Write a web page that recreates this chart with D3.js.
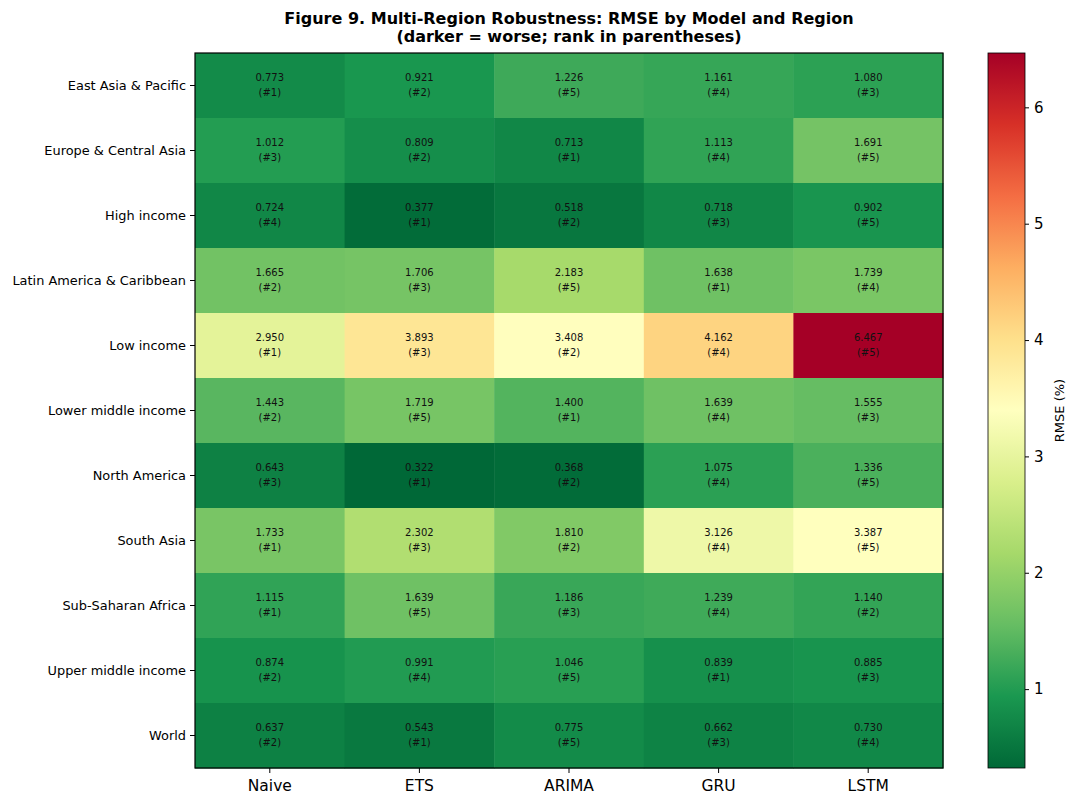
<!DOCTYPE html>
<html>
<head>
<meta charset="utf-8">
<script src="https://cdn.jsdelivr.net/npm/d3@7"></script>
<style>
  body { margin: 0; background: #fff; }
  svg text { font-family: "DejaVu Sans", sans-serif; }
</style>
</head>
<body>
<div id="chart"></div>
<script>
// Multi-region RMSE heatmap

const regions = ["East Asia & Pacific", "Europe & Central Asia", "High income",
  "Latin America & Caribbean", "Low income", "Lower middle income", "North America",
  "South Asia", "Sub-Saharan Africa", "Upper middle income", "World"];
const models = ["Naive", "ETS", "ARIMA", "GRU", "LSTM"];

// rows follow regions, columns follow models
const rmse = [
  [0.773, 0.921, 1.226, 1.161, 1.080],
  [1.012, 0.809, 0.713, 1.113, 1.691],
  [0.724, 0.377, 0.518, 0.718, 0.902],
  [1.665, 1.706, 2.183, 1.638, 1.739],
  [2.950, 3.893, 3.408, 4.162, 6.467],
  [1.443, 1.719, 1.400, 1.639, 1.555],
  [0.643, 0.322, 0.368, 1.075, 1.336],
  [1.733, 2.302, 1.810, 3.126, 3.387],
  [1.115, 1.639, 1.186, 1.239, 1.140],
  [0.874, 0.991, 1.046, 0.839, 0.885],
  [0.637, 0.543, 0.775, 0.662, 0.730]
];
const ranks = [
  [1, 2, 5, 4, 3],
  [3, 2, 1, 4, 5],
  [4, 1, 2, 3, 5],
  [2, 3, 5, 1, 4],
  [1, 3, 2, 4, 5],
  [2, 5, 1, 4, 3],
  [3, 1, 2, 4, 5],
  [1, 3, 2, 4, 5],
  [1, 5, 3, 4, 2],
  [2, 4, 5, 1, 3],
  [2, 1, 5, 3, 4]
];
const cbTicks = [1, 2, 3, 4, 5, 6];

const width = 1069, height = 796,
    margin = ({ top: 53, right: 126, bottom: 28, left: 195 });

const svg = d3.select("#chart")
  .append("svg")
  .attr("width", width)
  .attr("height", height)
  .attr("viewBox", [0, 0, width, height]);

const x = d3.scaleBand()
  .domain(models)
  .range([margin.left, width - margin.right]);

const y = d3.scaleBand()
  .domain(regions)
  .range([margin.top, height - margin.bottom]);

// matplotlib RdYlGn_r: linear through the 11 brewer colours
const allVals = rmse.flat();
const [vmin, vmax] = d3.extent(allVals);
const brewer = d3.schemeRdYlGn[11].slice().reverse();
const color = d3.scaleLinear()
  .domain(d3.range(11).map(i => vmin + (vmax - vmin) * i / 10))
  .range(brewer)
  .interpolate(d3.interpolateRgb);

const cells = [];
regions.forEach((r, i) => models.forEach((m, j) => {
  cells.push({ region: r, model: m, value: rmse[i][j], rank: ranks[i][j] });
}));

const g = svg.append("g");
g.selectAll("rect")
  .data(cells)
  .join("rect")
  .attr("x", d => x(d.model))
  .attr("y", d => y(d.region))
  .attr("width", x.bandwidth() + 0.5)
  .attr("height", y.bandwidth() + 0.5)
  .attr("fill", d => color(d.value));

const labels = g.selectAll("text")
  .data(cells)
  .join("text")
  .attr("x", d => x(d.model) + x.bandwidth() / 2)
  .attr("y", d => y(d.region) + y.bandwidth() / 2)
  .attr("text-anchor", "middle")
  .attr("font-size", 10)
  .attr("fill", "#111");
labels.append("tspan")
  .attr("x", d => x(d.model) + x.bandwidth() / 2)
  .attr("dy", -4.5)
  .text(d => d.value.toFixed(3));
labels.append("tspan")
  .attr("x", d => x(d.model) + x.bandwidth() / 2)
  .attr("dy", 14.5)
  .text(d => `(#${d.rank})`);

// frame
svg.append("rect")
  .attr("x", margin.left)
  .attr("y", margin.top)
  .attr("width", width - margin.right - margin.left)
  .attr("height", height - margin.bottom - margin.top)
  .attr("fill", "none")
  .attr("stroke", "#000")
  .attr("stroke-width", 1.2);

// axes
const xAxis = svg.append("g")
  .attr("transform", `translate(0,${height - margin.bottom})`)
  .call(d3.axisBottom(x).tickSize(5).tickPadding(7));
xAxis.attr("font-family", null);
xAxis.select(".domain").remove();
xAxis.selectAll("text").attr("font-size", 15.5).attr("fill", "#000");

const yAxis = svg.append("g")
  .attr("transform", `translate(${margin.left},0)`)
  .call(d3.axisLeft(y).tickSize(5).tickPadding(4));
yAxis.attr("font-family", null);
yAxis.select(".domain").remove();
yAxis.selectAll("text").attr("font-size", 12.9).attr("fill", "#000");

// colorbar
const cbX = 988, cbW = 37;
const cy = d3.scaleLinear()
  .domain([vmin, vmax])
  .range([height - margin.bottom, margin.top]);

const defs = svg.append("defs");
const grad = defs.append("linearGradient")
  .attr("id", "cb")
  .attr("x1", 0).attr("y1", 1).attr("x2", 0).attr("y2", 0);
grad.selectAll("stop")
  .data(d3.range(0, 1.0001, 0.02))
  .join("stop")
  .attr("offset", d => d)
  .attr("stop-color", d => color(vmin + d * (vmax - vmin)));

svg.append("rect")
  .attr("x", cbX)
  .attr("y", cy(vmax))
  .attr("width", cbW)
  .attr("height", cy(vmin) - cy(vmax))
  .attr("fill", "url(#cb)")
  .attr("stroke", "#000")
  .attr("stroke-width", 0.8);

const cbAxis = svg.append("g")
  .attr("transform", `translate(${cbX + cbW},0)`)
  .call(d3.axisRight(cy).tickValues(cbTicks).tickFormat(d3.format("d")).tickSize(4).tickPadding(5));
cbAxis.attr("font-family", null);
cbAxis.select(".domain").remove();
cbAxis.selectAll("text").attr("font-size", 15).attr("fill", "#000");

svg.append("text")
  .attr("transform", `translate(1064,${(margin.top + height - margin.bottom) / 2}) rotate(-90)`)
  .attr("text-anchor", "middle")
  .attr("font-size", 13)
  .text("RMSE (%)");

// title
const title = svg.append("text")
  .attr("x", (margin.left + width - margin.right) / 2)
  .attr("text-anchor", "middle")
  .attr("font-size", 16)
  .attr("font-weight", "bold");
title.append("tspan")
  .attr("x", (margin.left + width - margin.right) / 2)
  .attr("y", 24)
  .text("Figure 9. Multi-Region Robustness: RMSE by Model and Region");
title.append("tspan")
  .attr("x", (margin.left + width - margin.right) / 2)
  .attr("y", 42)
  .text("(darker = worse; rank in parentheses)");
</script>
</body>
</html>
